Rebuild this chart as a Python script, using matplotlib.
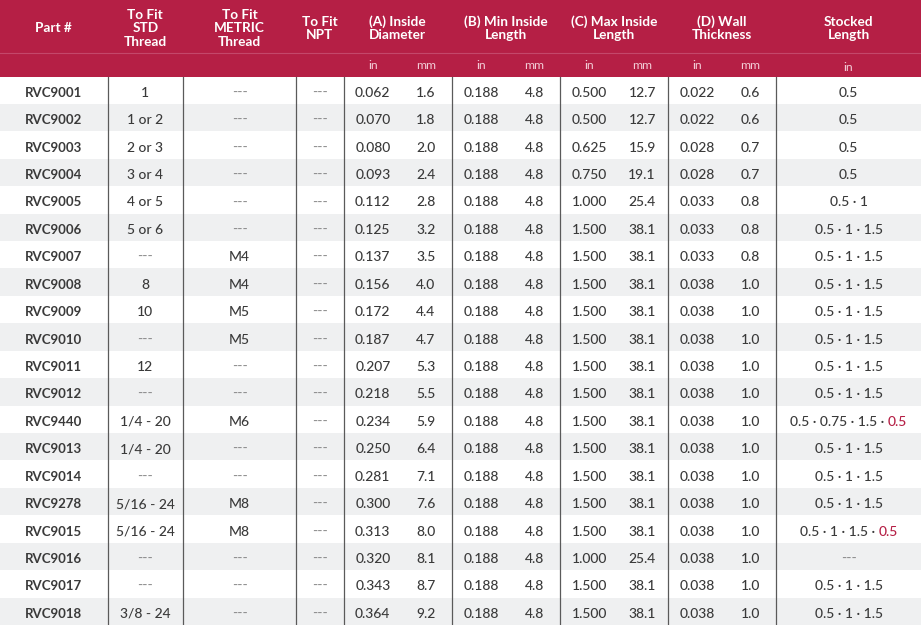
import matplotlib.pyplot as plt
from matplotlib.patches import Rectangle

# table data
parts = ['RVC9001', 'RVC9002', 'RVC9003', 'RVC9004', 'RVC9005', 'RVC9006', 'RVC9007',
         'RVC9008', 'RVC9009', 'RVC9010', 'RVC9011', 'RVC9012', 'RVC9440', 'RVC9013',
         'RVC9014', 'RVC9278', 'RVC9015', 'RVC9016', 'RVC9017', 'RVC9018']
std_thread = ['1', '1 or 2', '2 or 3', '3 or 4', '4 or 5', '5 or 6', '---', '8', '10', '---',
              '12', '---', '1/4 - 20', '1/4 - 20', '---', '5/16 - 24', '5/16 - 24', '---', '---',
              '3/8 - 24']
metric_thread = ['---', '---', '---', '---', '---', '---', 'M4', 'M4', 'M5', 'M5',
                 '---', '---', 'M6', '---', '---', 'M8', 'M8', '---', '---', '---']
npt_thread = ['---'] * 20
dia_in = ['0.062', '0.070', '0.080', '0.093', '0.112', '0.125', '0.137', '0.156', '0.172', '0.187',
          '0.207', '0.218', '0.234', '0.250', '0.281', '0.300', '0.313', '0.320', '0.343', '0.364']
dia_mm = ['1.6', '1.8', '2.0', '2.4', '2.8', '3.2', '3.5', '4.0', '4.4', '4.7',
          '5.3', '5.5', '5.9', '6.4', '7.1', '7.6', '8.0', '8.1', '8.7', '9.2']
min_in = ['0.188'] * 20
min_mm = ['4.8'] * 20
max_in = ['0.500', '0.500', '0.625', '0.750', '1.000', '1.500', '1.500', '1.500', '1.500', '1.500',
          '1.500', '1.500', '1.500', '1.500', '1.500', '1.500', '1.500', '1.000', '1.500', '1.500']
max_mm = ['12.7', '12.7', '15.9', '19.1', '25.4', '38.1', '38.1', '38.1', '38.1', '38.1',
          '38.1', '38.1', '38.1', '38.1', '38.1', '38.1', '38.1', '25.4', '38.1', '38.1']
wall_in = ['0.022', '0.022', '0.028', '0.028', '0.033', '0.033', '0.033', '0.038', '0.038', '0.038',
           '0.038', '0.038', '0.038', '0.038', '0.038', '0.038', '0.038', '0.038', '0.038', '0.038']
wall_mm = ['0.6', '0.6', '0.7', '0.7', '0.8', '0.8', '0.8', '1.0', '1.0', '1.0',
           '1.0', '1.0', '1.0', '1.0', '1.0', '1.0', '1.0', '1.0', '1.0', '1.0']
stocked = ['0.5', '0.5', '0.5', '0.5', '0.5 · 1', '0.5 · 1 · 1.5', '0.5 · 1 · 1.5', '0.5 · 1 · 1.5',
           '0.5 · 1 · 1.5', '0.5 · 1 · 1.5', '0.5 · 1 · 1.5', '0.5 · 1 · 1.5',
           '0.5 · 0.75 · 1.5 · ', '0.5 · 1 · 1.5', '0.5 · 1 · 1.5', '0.5 · 1 · 1.5',
           '0.5 · 1 · 1.5 · ', '---', '0.5 · 1 · 1.5', '0.5 · 1 · 1.5']
stocked_red = [''] * 12 + ['0.5'] + [''] * 3 + ['0.5'] + [''] * 3

headers = ['Part #', 'To Fit\nSTD\nThread', 'To Fit\nMETRIC\nThread', 'To Fit\nNPT',
           '(A) Inside\nDiameter', '(B) Min Inside\nLength', '(C) Max Inside\nLength',
           '(D) Wall\nThickness', 'Stocked\nLength']

RED = '#b51f45'
GREY_ROW = '#eff0f1'
TXT = '#3a3a3a'
DASH = '#8a8a8a'
FONT = 'Lato'
FS = 10

W, H = 921, 625
fig = plt.figure(figsize=(W / 100, H / 100), dpi=100)
ax = fig.add_axes([0, 0, 1, 1])
ax.set_xlim(0, W)
ax.set_ylim(H, 0)
ax.axis('off')

# layout
col_edges = [0, 107.5, 183, 296, 343.5, 452, 560, 668, 776, W]
head_bot = 52.5
sub_bot = 76.5
row_h = (H - sub_bot) / len(parts)

# header background
ax.add_patch(Rectangle((0, 0), W, sub_bot, color=RED, lw=0))
ax.plot([0, W], [head_bot, head_bot], color='#c4476a', lw=0.8)

for i, h in enumerate(headers):
    cx = (col_edges[i] + col_edges[i + 1]) / 2
    ax.text(cx, head_bot / 2 + 2, h, ha='center', va='center', color='white',
            fontsize=9.8, fontweight='bold', family=FONT, linespacing=1.15)

# unit row
for i in range(4, 8):
    left, right = col_edges[i], col_edges[i + 1]
    ax.text(left + 0.27 * (right - left), (head_bot + sub_bot) / 2 + 1, 'in', ha='center',
            va='center', color='#f2cbd5', fontsize=8.8, family=FONT)
    ax.text(left + 0.76 * (right - left), (head_bot + sub_bot) / 2 + 1, 'mm', ha='center',
            va='center', color='#f2cbd5', fontsize=8.8, family=FONT)
ax.text((col_edges[8] + W) / 2, (head_bot + sub_bot) / 2 + 3, 'in', ha='center',
        va='center', color='#f2cbd5', fontsize=8.8, family=FONT)

# body rows
for r in range(len(parts)):
    top = sub_bot + r * row_h
    cy = top + row_h / 2 + 2.5
    if r % 2 == 1:
        ax.add_patch(Rectangle((0, top), W, row_h, color=GREY_ROW, lw=0))

    def put(x, s, bold=False):
        ax.text(x, cy, s, ha='center', va='center', fontsize=9.5 if bold else FS,
                family=FONT, color=DASH if s == '---' else TXT,
                fontweight='bold' if bold else 'medium')

    put((col_edges[0] + col_edges[1]) / 2, parts[r], bold=True)
    put((col_edges[1] + col_edges[2]) / 2, std_thread[r])
    put((col_edges[2] + col_edges[3]) / 2, metric_thread[r])
    put((col_edges[3] + col_edges[4]) / 2, npt_thread[r])
    pairs = [(dia_in, dia_mm), (min_in, min_mm), (max_in, max_mm), (wall_in, wall_mm)]
    for k, (a, b) in enumerate(pairs):
        left, right = col_edges[4 + k], col_edges[5 + k]
        put(left + 0.27 * (right - left), a[r])
        put(left + 0.76 * (right - left), b[r])

# vertical separators in the body
for x in col_edges[1:-1]:
    ax.plot([x, x], [sub_bot, H], color='#5a5a5a', lw=0.9)

# stocked length column, some with a red extra length
fig.canvas.draw()
renderer = fig.canvas.get_renderer()
sx = (col_edges[8] + W) / 2
for r in range(len(parts)):
    cy = sub_bot + r * row_h + row_h / 2 + 2.5
    col = DASH if stocked[r] == '---' else TXT
    t1 = ax.text(sx, cy, stocked[r], ha='center', va='center', fontsize=FS,
                 family=FONT, fontweight='medium', color=col)
    if stocked_red[r]:
        t2 = ax.text(sx, cy, stocked_red[r], ha='left', va='center', fontsize=FS,
                     family=FONT, fontweight='medium', color=RED)
        w1 = t1.get_window_extent(renderer).width
        w2 = t2.get_window_extent(renderer).width
        start = sx - (w1 + w2) / 2
        t1.set_ha('left')
        t1.set_x(start)
        t2.set_x(start + w1)

plt.savefig('out.png', dpi=100)
